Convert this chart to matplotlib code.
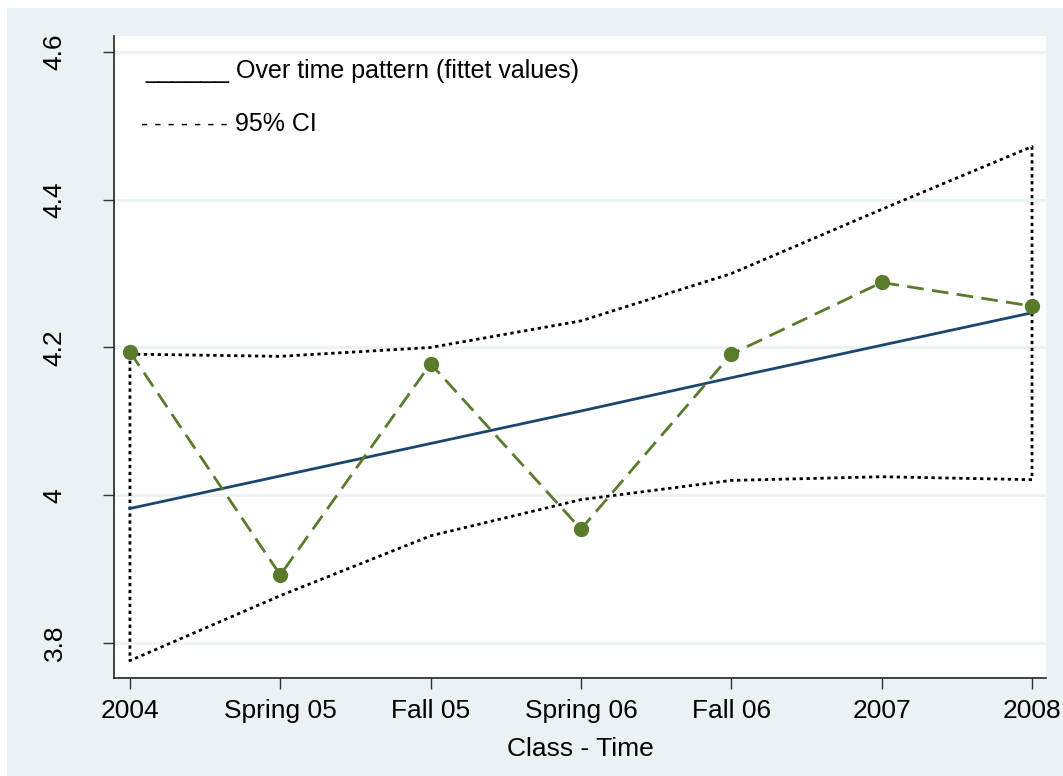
import numpy as np
import matplotlib.pyplot as plt
from matplotlib.patches import Rectangle

categories = ['2004', 'Spring 05', 'Fall 05', 'Spring 06', 'Fall 06', '2007', '2008']
observed = [4.194, 3.892, 4.178, 3.954, 4.191, 4.288, 4.256]
fitted = [3.982, 4.026, 4.070, 4.114, 4.159, 4.203, 4.247]
ci_upper = [4.191, 4.188, 4.200, 4.236, 4.300, 4.387, 4.472]
ci_lower = [3.776, 3.864, 3.945, 3.994, 4.020, 4.025, 4.021]
y_ticks = [3.8, 4.0, 4.2, 4.4, 4.6]
y_tick_labels = ['3.8', '4', '4.2', '4.4', '4.6']

BG = '#EAF2F3'
GREEN = '#5A7A2C'
NAVY = '#1A476F'

plt.rcParams['font.family'] = ['Liberation Sans', 'DejaVu Sans']

W, H = 1063, 776
fig = plt.figure(figsize=(W / 100, H / 100), dpi=100, facecolor='white')
fig.patches.append(Rectangle((7 / W, 0), 1, 1 - 8 / H, transform=fig.transFigure,
                             facecolor=BG, edgecolor='none', zorder=-1))

ax = fig.add_axes([114 / W, (H - 678) / H, (1046 - 114) / W, (678 - 36) / H])
ax.set_facecolor('white')

x = np.arange(len(categories))

# confidence band drawn as a closed dotted outline
ci_x = list(x) + list(x[::-1]) + [x[0]]
ci_y = list(ci_upper) + list(ci_lower[::-1]) + [ci_upper[0]]
ax.plot(ci_x, ci_y, color='black', lw=2.0, linestyle=(0, (1.2, 1.3)), zorder=3)

ax.plot(x, fitted, color=NAVY, lw=2.0, zorder=4)
ax.plot(x, observed, color=GREEN, lw=2.0, dashes=(6, 3), marker='o',
        markersize=10, markeredgecolor=GREEN, markerfacecolor=GREEN, zorder=5)

ax.set_xlim(-0.106, 6.093)
ax.set_ylim(3.7525, 4.6217)
ax.set_xticks(x)
ax.set_xticklabels(categories, fontsize=19)
ax.set_yticks(y_ticks)
ax.set_yticklabels(y_tick_labels, fontsize=19, rotation=90, va='center')
ax.tick_params(axis='both', direction='out', length=8, width=1, color='#333333')
ax.tick_params(axis='x', pad=7)
ax.tick_params(axis='y', pad=26)
ax.yaxis.grid(True, color=BG, lw=2)
ax.set_axisbelow(True)

for side in ['top', 'right']:
    ax.spines[side].set_visible(False)
for side in ['left', 'bottom']:
    ax.spines[side].set_color('#222222')
    ax.spines[side].set_linewidth(1.2)

ax.set_xlabel('Class - Time', fontsize=19, labelpad=10)

# legend as plain text, Stata style
fig.text(145 / W, (H - 78) / H, '______ Over time pattern (fittet values)',
         fontsize=18, va='baseline', ha='left')
fig.text(141 / W, (H - 131) / H, '- - - - - - -', fontsize=15.5,
         va='baseline', ha='left')
fig.text(235 / W, (H - 131) / H, '95% CI', fontsize=18, va='baseline', ha='left')

plt.savefig('out.png', dpi=100, facecolor=fig.get_facecolor())
plt.close()
